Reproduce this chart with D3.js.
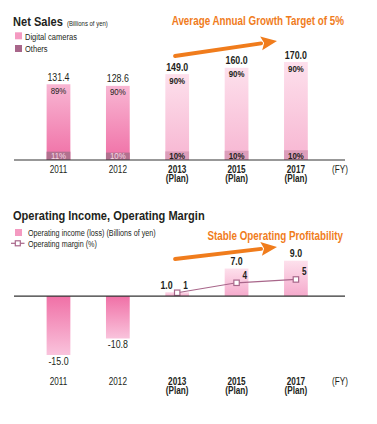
<!DOCTYPE html>
<html>
<head>
<meta charset="utf-8">
<script src="https://cdn.jsdelivr.net/npm/d3@7"></script>
<style>
  body { margin: 0; background: #fff; }
  svg text { font-family: 'Liberation Sans', Arial, sans-serif; fill: #231f20; }
</style>
</head>
<body>
<svg id="drawing_region"></svg>
<script>
// data
var years = ['2011', '2012', '2013', '2015', '2017'];
var isPlan = [false, false, true, true, true];
var netSales = [131.4, 128.6, 149.0, 160.0, 170.0];
var cameraShare = [89, 90, 90, 90, 90];
var othersShare = [11, 10, 10, 10, 10];
var opIncome = [-15.0, -10.8, 1.0, 7.0, 9.0];
var opMargin = [null, null, 1, 4, 5];

var width = 377;
var height = 424;
var orange = '#f07c1c';
var mauve = '#a8668a';

var svg = d3.select('#drawing_region')
    .attr('width', width)
    .attr('height', height);

var defs = svg.append('defs');
function grad(id, c0, c1) {
    var g = defs.append('linearGradient').attr('id', id)
        .attr('x1', 0).attr('y1', 0).attr('x2', 0).attr('y2', 1);
    g.append('stop').attr('offset', '0%').attr('stop-color', c0);
    g.append('stop').attr('offset', '100%').attr('stop-color', c1);
}
grad('camActual', '#f8b6d3', '#f070a6');
grad('camPlan', '#fde0ec', '#f7b6d2');
grad('opNeg', '#f070a6', '#f9c3dc');
grad('opPos', '#fde0ec', '#f5aacc');

var rows = years.map((y, i) => ({
    year: y, plan: isPlan[i], sales: netSales[i], cam: cameraShare[i],
    oth: othersShare[i], inc: opIncome[i], margin: opMargin[i]
}));

// shared x scale
var xscale = d3.scaleBand()
    .domain(years)
    .range([11, 343.4])
    .paddingInner(0.6)
    .paddingOuter(0.6);
var bw = xscale.bandwidth();
var cx = d => xscale(d.year) + bw / 2;

function xAxis(g, y0, yLab) {
    g.append('line')
        .attr('x1', 14).attr('x2', 345)
        .attr('y1', y0).attr('y2', y0)
        .attr('stroke', '#333').attr('stroke-width', 1.2);
    var ax = g.append('g')
        .attr('transform', `translate(0, ${yLab})`)
        .call(d3.axisBottom(xscale).tickSize(0).tickPadding(0));
    ax.select('.domain').remove();
    ax.selectAll('.tick text')
        .attr('y', 0).attr('dy', 0)
        .attr('fill', null)
        .style('font-size', '10px')
        .style('font-weight', (d, i) => isPlan[i] ? 'bold' : 'normal');
    ax.selectAll('.tick').filter((d, i) => isPlan[i])
        .append('text')
        .attr('y', 9.6)
        .style('font-size', '10px').style('font-weight', 'bold')
        .text('(Plan)');
    g.append('text')
        .attr('x', 332).attr('y', yLab)
        .style('font-size', '10px')
        .text('(FY)');
}

function arrow(g, x1, y1, x2, y2) {
    var ang = Math.atan2(y2 - y1, x2 - x1);
    var len = 16, half = 7;
    var bx = x2 - len * Math.cos(ang), by = y2 - len * Math.sin(ang);
    g.append('line')
        .attr('x1', x1).attr('y1', y1).attr('x2', bx).attr('y2', by)
        .attr('stroke', orange).attr('stroke-width', 3.8).attr('stroke-linecap', 'round');
    var px = -Math.sin(ang), py = Math.cos(ang);
    g.append('path')
        .attr('d', `M${x2},${y2}L${bx + px * half},${by + py * half}L${bx + 3 * Math.cos(ang)},${by + 3 * Math.sin(ang)}L${bx - px * half},${by - py * half}Z`)
        .attr('fill', orange);
}

// ---------- Net sales ----------
var sales = svg.append('g');
var ys = d3.scaleLinear().domain([0, 170]).range([160, 62]);

sales.append('text').attr('x', 13).attr('y', 26)
    .style('font-size', '13.5px').style('font-weight', 'bold').text('Net Sales');
sales.append('text').attr('x', 67).attr('y', 25.5)
    .style('font-size', '7.3px').text('(Billions of yen)');
sales.append('text').attr('x', 344).attr('y', 25.3).attr('text-anchor', 'end')
    .style('font-size', '12px').style('font-weight', 'bold').style('fill', orange)
    .text('Average Annual Growth Target of 5%');
arrow(sales, 175, 56, 277, 41);

sales.append('rect').attr('x', 15).attr('y', 32.3).attr('width', 7).attr('height', 7).attr('fill', '#f49ac1');
sales.append('text').attr('x', 25).attr('y', 39.5).style('font-size', '9.2px').text('Digital cameras');
sales.append('rect').attr('x', 15).attr('y', 45).attr('width', 7).attr('height', 7).attr('fill', mauve);
sales.append('text').attr('x', 25).attr('y', 52.2).style('font-size', '9.2px').text('Others');

// camera segment (full bar) then others on top of it at the bottom
sales.selectAll('rect.cam').data(rows).join('rect').attr('class', 'cam')
    .attr('x', d => xscale(d.year)).attr('width', bw)
    .attr('y', d => ys(d.sales)).attr('height', d => ys(0) - ys(d.sales))
    .attr('fill', d => d.plan ? 'url(#camPlan)' : 'url(#camActual)');
sales.selectAll('rect.oth').data(rows).join('rect').attr('class', 'oth')
    .attr('x', d => xscale(d.year)).attr('width', bw)
    .attr('y', d => ys(d.sales * d.oth / 100)).attr('height', d => ys(0) - ys(d.sales * d.oth / 100))
    .attr('fill', d => d.plan ? '#dc9dba' : '#b1718f');

sales.selectAll('text.val').data(rows).join('text').attr('class', 'val')
    .attr('x', cx).attr('y', d => ys(d.sales) - 3.5).attr('text-anchor', 'middle')
    .style('font-size', '10.8px').style('font-weight', d => d.plan ? 'bold' : 'normal')
    .text(d => d.sales.toFixed(1));
sales.selectAll('text.cpct').data(rows).join('text').attr('class', 'cpct')
    .attr('x', cx).attr('y', d => ys(d.sales) + 9.5).attr('text-anchor', 'middle')
    .style('font-size', '9.6px').style('font-weight', d => d.plan ? 'bold' : 'normal')
    .text(d => d.cam + '%');
sales.selectAll('text.opct').data(rows).join('text').attr('class', 'opct')
    .attr('x', cx).attr('y', 159).attr('text-anchor', 'middle')
    .style('font-size', '9.6px').style('font-weight', d => d.plan ? 'bold' : 'normal')
    .style('fill', d => d.plan ? '#231f20' : '#f6dbe7')
    .text(d => d.oth + '%');

xAxis(sales, 160, 172.5);

// ---------- Operating income ----------
var bot = svg.append('g');
var yo = d3.scaleLinear().domain([-15, 9]).range([355, 260.7]);
var ym = d3.scaleLinear().domain([0, 5]).range([yo(0), yo(0) - 16.6]);

bot.append('text').attr('x', 13).attr('y', 220)
    .style('font-size', '13.5px').style('font-weight', 'bold').text('Operating Income, Operating Margin');
bot.append('text').attr('x', 343).attr('y', 240).attr('text-anchor', 'end')
    .style('font-size', '12px').style('font-weight', 'bold').style('fill', orange)
    .text('Stable Operating Profitability');
arrow(bot, 175, 259, 277, 247);

bot.append('rect').attr('x', 15).attr('y', 229).attr('width', 7).attr('height', 7).attr('fill', '#f49ac1');
bot.append('text').attr('x', 28).attr('y', 236.3).style('font-size', '8.8px')
    .text('Operating income (loss) (Billions of yen)');
bot.append('line').attr('x1', 11).attr('x2', 24.5).attr('y1', 243.3).attr('y2', 243.3)
    .attr('stroke', mauve).attr('stroke-width', 1.2);
bot.append('rect').attr('x', 15.3).attr('y', 240.8).attr('width', 5).attr('height', 5)
    .attr('fill', '#fff').attr('stroke', mauve).attr('stroke-width', 1.2);
bot.append('text').attr('x', 28).attr('y', 246.8).style('font-size', '8.8px')
    .text('Operating margin (%)');

bot.selectAll('rect.inc').data(rows).join('rect').attr('class', 'inc')
    .attr('x', d => xscale(d.year)).attr('width', bw)
    .attr('y', d => yo(Math.max(0, d.inc))).attr('height', d => Math.abs(yo(d.inc) - yo(0)))
    .attr('fill', d => d.inc < 0 ? 'url(#opNeg)' : 'url(#opPos)');

bot.selectAll('text.inc').data(rows).join('text').attr('class', 'inc')
    .attr('x', d => d.inc < 0 ? cx(d) : (d.inc < 2 ? cx(d) - 4.5 : cx(d)))
    .attr('y', d => d.inc < 0 ? yo(d.inc) + 9.8 : yo(d.inc) - 3.5)
    .attr('text-anchor', d => (d.inc >= 0 && d.inc < 2) ? 'end' : 'middle')
    .style('font-size', '10.8px').style('font-weight', d => d.plan ? 'bold' : 'normal')
    .text(d => d.inc < 0 ? '-' + Math.abs(d.inc).toFixed(1) : d.inc.toFixed(1));

var mrows = rows.filter(d => d.margin != null);
var line = d3.line().x(cx).y(d => ym(d.margin));
bot.append('path').datum(mrows).attr('d', line)
    .attr('fill', 'none').attr('stroke', mauve).attr('stroke-width', 1.2);
bot.selectAll('rect.mk').data(mrows).join('rect').attr('class', 'mk')
    .attr('x', d => cx(d) - 2.7).attr('y', d => ym(d.margin) - 2.7)
    .attr('width', 5.4).attr('height', 5.4)
    .attr('fill', '#fff').attr('stroke', mauve).attr('stroke-width', 1.2);
bot.selectAll('text.mg').data(mrows).join('text').attr('class', 'mg')
    .attr('x', d => cx(d) + 6).attr('y', d => ym(d.margin) - 4)
    .style('font-size', '10px').style('font-weight', 'bold')
    .text(d => d.margin);

xAxis(bot, yo(0), 384.8);

// narrow type: squeeze every label horizontally around its anchor point
svg.selectAll('text').each(function() {
    var t = d3.select(this);
    var x = +t.attr('x') || 0, y = +t.attr('y') || 0;
    t.attr('x', 0).attr('y', 0)
        .attr('transform', `translate(${x},${y}) scale(0.82,1)`);
});
</script>
</body>
</html>
